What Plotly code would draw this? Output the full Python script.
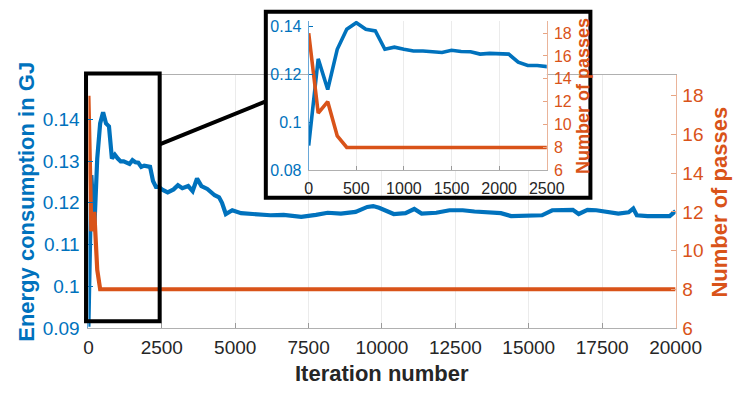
import plotly.graph_objects as go

# ---------------- data ----------------
iter_energy = [0, 100, 200, 300, 400, 500, 600, 700, 800, 900, 1000, 1100, 1200, 1300,
               1400, 1500, 1600, 1700, 1800, 1900, 2000, 2100, 2200, 2300, 2400, 2500,
               2700, 2900, 3050, 3200, 3400, 3550, 3700, 3850, 4050, 4300, 4450, 4550,
               4680, 4900, 5200, 5650, 6200, 6650, 7250, 7750, 8150, 8600, 9100, 9500,
               9700, 9900, 10100, 10400, 10800, 11100, 11350, 11850, 12300, 12750, 13150,
               13600, 14050, 14400, 15100, 15450, 15800, 16200, 16500, 16700, 17000, 17300,
               17750, 18050, 18400, 18560, 18680, 19050, 19800, 19950, 20000]
energy_gj = [0.0903, 0.1266, 0.1138, 0.1306, 0.1390, 0.1417, 0.1390, 0.1383, 0.1306, 0.1315,
             0.1306, 0.1299, 0.1299, 0.1297, 0.1293, 0.1302, 0.1297, 0.1296, 0.1286, 0.1289,
             0.1288, 0.1286, 0.1252, 0.1238, 0.1238, 0.1232,
             0.1225, 0.1232, 0.1242, 0.1235, 0.1240, 0.1228, 0.1258, 0.1240, 0.1233, 0.1218,
             0.1213, 0.1200, 0.1173, 0.1182, 0.1175, 0.1173, 0.1170, 0.1171, 0.1166, 0.1171,
             0.1176, 0.1174, 0.1178, 0.1190, 0.1192, 0.1188, 0.1183, 0.1173, 0.1175, 0.1185,
             0.1174, 0.1176, 0.1182, 0.1182, 0.1179, 0.1177, 0.1175, 0.1168, 0.1168, 0.1170,
             0.1182, 0.1182, 0.1183, 0.1173, 0.1183, 0.1182, 0.1177, 0.1174, 0.1177, 0.1186,
             0.1170, 0.1168, 0.1168, 0.1178, 0.1180]

iter_passes = [0, 100, 200, 300, 400, 20000]
passes = [18, 11, 12, 9, 8, 8]

main_xticks = [0, 2500, 5000, 7500, 10000, 12500, 15000, 17500, 20000]
main_yticks = [0.09, 0.10, 0.11, 0.12, 0.13, 0.14]
main_yticklabels = ["0.09", "0.1", "0.11", "0.12", "0.13", "0.14"]
pass_ticks = [6, 8, 10, 12, 14, 16, 18]
inset_xticks = [0, 500, 1000, 1500, 2000, 2500]
inset_yticks = [0.08, 0.10, 0.12, 0.14]
inset_yticklabels = ["0.08", "0.1", "0.12", "0.14"]

BLUE = "#0072BD"
ORANGE = "#D95319"
DARK = "#262626"
FONT = "Liberation Sans, Arial, sans-serif"
W, H = 754, 397


def px_x(p):
    return p / W


def px_y(p):
    return 1 - p / H


fig = go.Figure()
fig.add_trace(go.Scatter(x=iter_energy, y=energy_gj, mode="lines",
                         line=dict(color=BLUE, width=4.2), xaxis="x", yaxis="y",
                         showlegend=False))
fig.add_trace(go.Scatter(x=iter_passes, y=passes, mode="lines",
                         line=dict(color=ORANGE, width=4.2), xaxis="x", yaxis="y2",
                         showlegend=False))
fig.add_trace(go.Scatter(x=iter_energy, y=energy_gj, mode="lines",
                         line=dict(color=BLUE, width=3.6), xaxis="x2", yaxis="y3",
                         showlegend=False))
fig.add_trace(go.Scatter(x=iter_passes, y=passes, mode="lines",
                         line=dict(color=ORANGE, width=3.6), xaxis="x2", yaxis="y4",
                         showlegend=False))

main_dx = [px_x(87), px_x(699.3)]
main_dy = [px_y(337), px_y(75.5)]
ins_dx = [px_x(316.7), px_x(565)]
ins_dy = [px_y(174), px_y(19.5)]

fig.update_layout(
    width=W, height=H,
    margin=dict(l=0, r=0, t=0, b=0),
    paper_bgcolor="white", plot_bgcolor="white",
    font=dict(family=FONT),
    xaxis=dict(domain=main_dx, range=[0, 20000], anchor="y",
               tickvals=main_xticks, ticktext=[str(v) for v in main_xticks],
               ticks="inside", ticklen=5, tickcolor="#9a9a9a",
               showline=True, linecolor="#b0b0b0", linewidth=1, mirror=True,
               showgrid=True, gridcolor="#ebebeb", gridwidth=1, zeroline=False,
               tickfont=dict(size=19, color=DARK, family=FONT), ticklabelstandoff=2),
    yaxis=dict(domain=main_dy, range=[0.09, 0.1506], anchor="x",
               tickvals=main_yticks, ticktext=main_yticklabels,
               ticks="inside", ticklen=5, tickcolor=BLUE,
               showline=True, linecolor="#6aa8d8", linewidth=1,
               showgrid=False, zeroline=False,
               tickfont=dict(size=19, color=BLUE, family=FONT), ticklabelstandoff=4),
    yaxis2=dict(range=[6, 19.07], overlaying="y", side="right", anchor="x",
                tickvals=pass_ticks, ticks="inside", ticklen=5, tickcolor="#e8a482",
                showline=True, linecolor="#eab49a", linewidth=1,
                showgrid=False, zeroline=False,
                tickfont=dict(size=19, color=ORANGE, family=FONT), ticklabelstandoff=2),
    xaxis2=dict(domain=ins_dx, range=[0, 2500], anchor="y3",
                tickvals=inset_xticks, ticktext=[str(v) for v in inset_xticks],
                ticks="inside", ticklen=4, tickcolor="#9a9a9a",
                showline=True, linecolor="#b0b0b0", linewidth=1,
                showgrid=True, gridcolor="#ebebeb", gridwidth=1, zeroline=False,
                tickfont=dict(size=16, color=DARK, family=FONT), ticklabelstandoff=3),
    yaxis3=dict(domain=ins_dy, range=[0.08, 0.1425], anchor="x2",
                tickvals=inset_yticks, ticktext=inset_yticklabels,
                ticks="inside", ticklen=4, tickcolor=BLUE,
                showline=True, linecolor="#6aa8d8", linewidth=1,
                showgrid=False, zeroline=False,
                tickfont=dict(size=16, color=BLUE, family=FONT), ticklabelstandoff=3),
    yaxis4=dict(range=[6, 19.07], overlaying="y3", side="right", anchor="x2",
                tickvals=pass_ticks, ticks="inside", ticklen=4, tickcolor="#e8a482",
                showline=True, linecolor="#eab49a", linewidth=1,
                showgrid=False, zeroline=False,
                tickfont=dict(size=16, color=ORANGE, family=FONT), ticklabelstandoff=3),
)

annotations = [
    dict(text="<b>Iteration number</b>", x=px_x(393), y=px_y(384), xref="paper", yref="paper",
         showarrow=False, xanchor="center", yanchor="middle",
         font=dict(size=22, color=DARK, family=FONT)),
    dict(text="<b>Energy consumption in GJ</b>", x=px_x(22.5), y=px_y(207), xref="paper",
         yref="paper", showarrow=False, textangle=-90, xanchor="center", yanchor="middle",
         font=dict(size=22, color=BLUE, family=FONT)),
    dict(text="<b>Number of passes</b>", x=px_x(745), y=px_y(207), xref="paper",
         yref="paper", showarrow=False, textangle=-90, xanchor="center", yanchor="middle",
         font=dict(size=22, color=ORANGE, family=FONT)),
    dict(text="<b>Number of passes</b>", x=px_x(603), y=px_y(97), xref="paper",
         yref="paper", showarrow=False, textangle=-90, xanchor="center", yanchor="middle",
         font=dict(size=18, color=ORANGE, family=FONT)),
]
fig.update_layout(annotations=annotations)

shapes = [
    dict(type="rect", xref="paper", yref="paper", x0=px_x(84.5), x1=px_x(161.3),
         y0=px_y(330), y1=px_y(74), line=dict(color="black", width=4), layer="above"),
    dict(type="line", xref="paper", yref="paper", x0=px_x(161.3), y0=px_y(147.3),
         x1=px_x(272), y1=px_y(102.7), line=dict(color="black", width=4), layer="above"),
    dict(type="rect", xref="paper", yref="paper", x0=px_x(272), x1=px_x(610.5),
         y0=px_y(202.5), y1=px_y(10), line=dict(color="black", width=4), layer="above"),
]
fig.update_layout(shapes=shapes)

fig.write_html("out.html")
